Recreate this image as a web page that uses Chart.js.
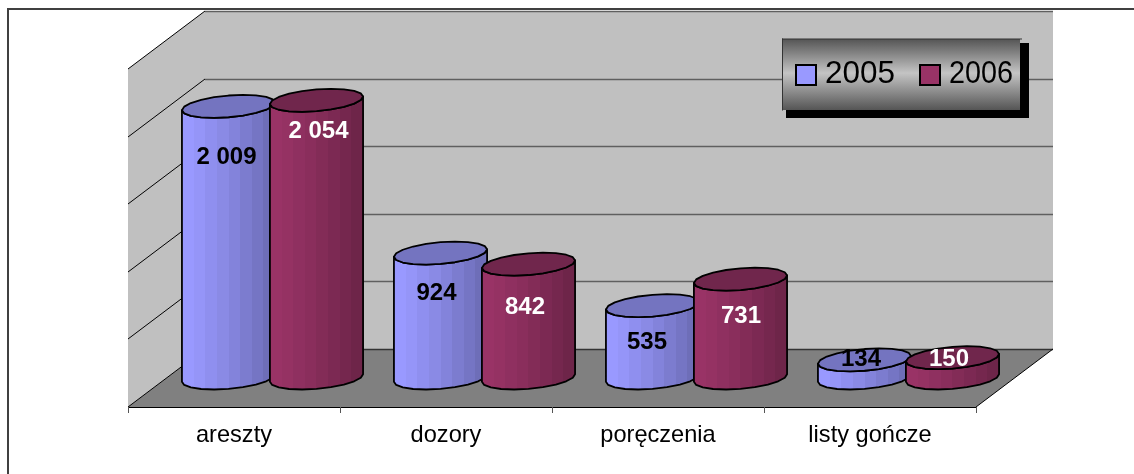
<!DOCTYPE html>
<html>
<head>
<meta charset="utf-8">
<style>html,body{margin:0;padding:0;background:#fff}canvas{display:block}</style>
<script src="https://cdn.jsdelivr.net/npm/chart.js@4"></script>
</head>
<body>
<canvas id="c" width="1134" height="474"></canvas>
<script>
const categories = ['areszty', 'dozory', 'poręczenia', 'listy gończe'];
const seriesNames = ['2005', '2006'];
const values2005 = [2009, 924, 535, 134];
const values2006 = [2054, 842, 731, 150];
const valueLabels2005 = ['2 009', '924', '535', '134'];
const valueLabels2006 = ['2 054', '842', '731', '150'];

const FONT = '"Liberation Sans", Arial, sans-serif';
const DX = 38.5, DY = 29;               // half of the 3D depth
const EP = 15.3, EQ = 11.5;             // depth vector of the cylinder ellipses
const styles = [
  {rgb: [153, 153, 255], top: '#7474C0', text: '#000', nudge: [[-2, 49.6], [-4, 39.5], [-5.5, 35.3], [-3.5, -1.4]]},
  {rgb: [153, 51, 102],  top: '#70264C', text: '#fff', nudge: [[2, 30.2], [-3.5, 42.3], [0.5, 35.8], [-3.5, 0.3]]}
];
const labelSets = [valueLabels2005, valueLabels2006];

function ellipsePoint(cx, cy, hw, t) {
  return [cx + hw * Math.cos(t) + EP * Math.sin(t), cy - EQ * Math.sin(t)];
}
function shade(rgb, f) {
  return 'rgb(' + rgb.map(v => Math.round(v * f)).join(',') + ')';
}
function cylinder(ctx, bar, st) {
  const cx = bar.x, hw = bar.width / 2, top = bar.y, base = bar.base;
  const t0 = Math.atan2(EP, hw), N = 10;
  const ext = Math.sqrt(hw * hw + EP * EP);
  const g = ctx.createLinearGradient(cx - ext, 0, cx + ext, 0);
  const bands = 8;
  for (let b = 0; b < bands; b++) {
    const f = 1 - 0.28 * Math.pow(b / (bands - 1), 1.2);
    g.addColorStop(b / bands, shade(st.rgb, f));
    g.addColorStop((b + 1) / bands, shade(st.rgb, f));
  }
  ctx.beginPath();
  for (let i = 0; i <= N; i++) {
    const p = ellipsePoint(cx, base, hw, t0 + Math.PI + Math.PI * i / N);
    i ? ctx.lineTo(p[0], p[1]) : ctx.moveTo(p[0], p[1]);
  }
  for (let i = N; i >= 0; i--) {
    const p = ellipsePoint(cx, top, hw, t0 + Math.PI + Math.PI * i / N);
    ctx.lineTo(p[0], p[1]);
  }
  ctx.closePath();
  ctx.fillStyle = g; ctx.fill();
  ctx.lineWidth = 1.8; ctx.strokeStyle = '#000'; ctx.lineJoin = 'round'; ctx.stroke();
  ctx.beginPath();
  for (let i = 0; i < 2 * N; i++) {
    const p = ellipsePoint(cx, top, hw, t0 + Math.PI * i / N);
    i ? ctx.lineTo(p[0], p[1]) : ctx.moveTo(p[0], p[1]);
  }
  ctx.closePath();
  ctx.fillStyle = st.top; ctx.fill(); ctx.stroke();
}

const scene = {
  id: 'scene',
  beforeDraw(chart) {
    const ctx = chart.ctx, a = chart.chartArea, ys = chart.scales.y, xs = chart.scales.x;
    const fl = a.left - DX, fr = a.right - DX, bl = a.left + DX, br = a.right + DX;
    const y0 = ys.getPixelForValue(0), yT = ys.getPixelForValue(ys.max);
    ctx.save();
    // outer frame
    ctx.fillStyle = '#404040';
    ctx.fillRect(7, 8, 1127, 2);
    ctx.fillRect(7, 8, 2, 466);
    // walls and floor
    ctx.fillStyle = '#C0C0C0';
    ctx.fillRect(bl, yT - DY, br - bl, y0 - yT);
    ctx.beginPath();
    ctx.moveTo(fl, y0 + DY); ctx.lineTo(fl, yT + DY); ctx.lineTo(bl, yT - DY); ctx.lineTo(bl, y0 - DY);
    ctx.closePath(); ctx.fill();
    ctx.fillStyle = '#808080';
    ctx.beginPath();
    ctx.moveTo(fl, y0 + DY); ctx.lineTo(bl, y0 - DY); ctx.lineTo(br, y0 - DY); ctx.lineTo(fr, y0 + DY);
    ctx.closePath(); ctx.fill();
    // gridlines from the value scale
    ys.ticks.forEach(t => {
      const y = Math.round(ys.getPixelForValue(t.value));
      ctx.lineWidth = 1;
      ctx.strokeStyle = '#000';
      ctx.beginPath(); ctx.moveTo(fl, y + DY); ctx.lineTo(bl, y - DY); ctx.stroke();
      ctx.lineWidth = 1.5;
      ctx.strokeStyle = t.value === 0 ? '#333' : '#5f5f5f';
      ctx.beginPath(); ctx.moveTo(bl, y - DY + 0.5); ctx.lineTo(br, y - DY + 0.5); ctx.stroke();
    });
    // floor edges and ticks
    ctx.lineWidth = 1;
    ctx.strokeStyle = '#000';
    ctx.beginPath();
    ctx.moveTo(fl, y0 + DY + 0.5); ctx.lineTo(fr, y0 + DY + 0.5);
    ctx.moveTo(fr, y0 + DY); ctx.lineTo(br, y0 - DY);
    ctx.stroke();
    const step = (a.right - a.left) / categories.length;
    ctx.strokeStyle = '#555';
    ctx.beginPath();
    categories.forEach((c, i) => {
      const xl = Math.round(xs.getPixelForValue(i) - step / 2 - DX) + 0.5;
      ctx.moveTo(xl, y0 + DY); ctx.lineTo(xl, y0 + DY + 6);
      if (i === categories.length - 1) {
        const xr = Math.round(xs.getPixelForValue(i) + step / 2 - DX) + 0.5;
        ctx.moveTo(xr, y0 + DY); ctx.lineTo(xr, y0 + DY + 6);
      }
    });
    ctx.stroke();
    // legend
    ctx.fillStyle = '#000';
    ctx.fillRect(786, 43, 243, 75);
    const lg = ctx.createLinearGradient(0, 39, 0, 110);
    lg.addColorStop(0, '#555');
    lg.addColorStop(0.48, '#C4C4C4');
    lg.addColorStop(1, '#555');
    ctx.fillStyle = lg;
    ctx.fillRect(782, 39, 238, 71);
    ctx.fillStyle = '#333';
    ctx.fillRect(782, 38.5, 240, 1);
    ctx.fillRect(782, 38.5, 1, 72);
    const sx = [796, 920], tx = [825, 949], tw = [70, 64];
    chart.data.datasets.forEach((d, i) => {
      ctx.fillStyle = shade(styles[i].rgb, 1);
      ctx.fillRect(sx[i], 65, 20, 20);
      ctx.lineWidth = 2; ctx.strokeStyle = '#000';
      ctx.strokeRect(sx[i], 65, 20, 20);
      ctx.fillStyle = '#000';
      ctx.font = '31.5px ' + FONT;
      ctx.textAlign = 'left'; ctx.textBaseline = 'middle';
      ctx.fillText(d.label, tx[i], 74, tw[i]);
    });
    ctx.restore();
  },
  afterDatasetsDraw(chart) {
    const ctx = chart.ctx;
    ctx.save();
    const bars = chart.data.datasets.map((d, i) => chart.getDatasetMeta(i).data);
    categories.forEach((c, j) => bars.forEach((els, i) => cylinder(ctx, els[j], styles[i])));
    ctx.font = 'bold 24px ' + FONT;
    ctx.textAlign = 'center'; ctx.textBaseline = 'middle';
    bars.forEach((els, i) => els.forEach((el, j) => {
      ctx.fillStyle = styles[i].text;
      const n = styles[i].nudge[j];
      ctx.fillText(labelSets[i][j], el.x + n[0], el.y + n[1] + 1);
    }));
    ctx.restore();
  }
};

new Chart(document.getElementById('c'), {
  type: 'bar',
  data: {
    labels: categories,
    datasets: [
      {label: seriesNames[0], data: values2005, backgroundColor: '#9999FF'},
      {label: seriesNames[1], data: values2006, backgroundColor: '#993366'}
    ]
  },
  options: {
    responsive: false,
    animation: false,
    layout: {padding: {left: 166.5, right: 119.5, top: 40, bottom: 0}},
    categoryPercentage: 0.83,
    barPercentage: 1,
    plugins: {legend: {display: false}, tooltip: {enabled: false}, title: {display: false}},
    scales: {
      x: {
        afterFit(s) { s.height = 96; },
        grid: {display: false},
        border: {display: false},
        ticks: {
          labelOffset: -DX, padding: 35, maxRotation: 0, autoSkip: false,
          color: '#000', font: {family: FONT, size: 23.6}
        }
      },
      y: {
        display: false, min: 0, max: 2500,
        ticks: {stepSize: 500}
      }
    }
  },
  plugins: [scene]
});
</script>
</body>
</html>
